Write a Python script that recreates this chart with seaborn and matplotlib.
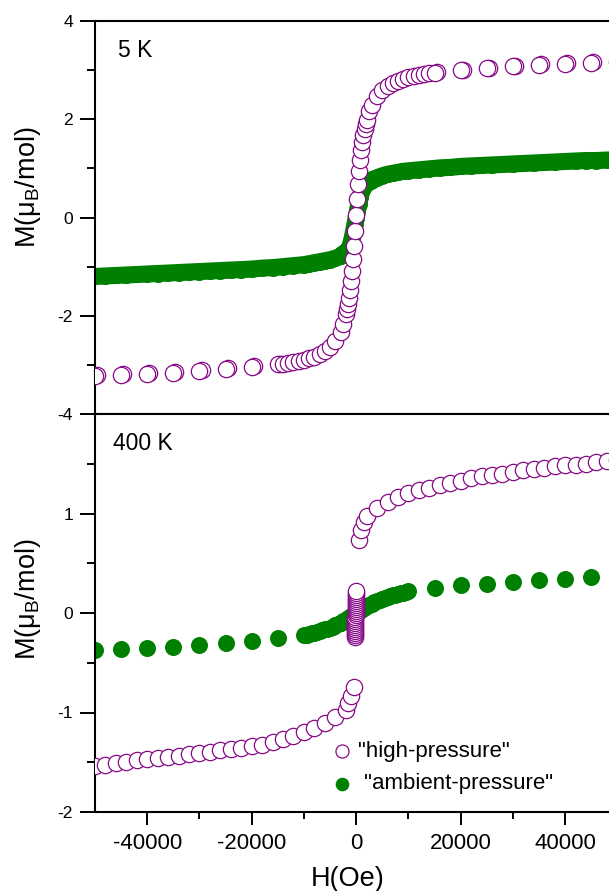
import matplotlib
matplotlib.use("Agg")
import matplotlib.pyplot as plt
import seaborn as sns
from matplotlib.ticker import FixedLocator, StrMethodFormatter

# ---- 5 K, "high-pressure" sample, main sweep (H in Oe, M in muB/mol) ----
hp5_H = [-50000, -45000, -40000, -35000, -30000, -25000, -20000, -15000,
         -14000, -13000, -12000, -11000, -10000, -9000, -8000, -7000, -6000,
         -5000, -4000, -3000, -2500, -2000, -1800, -1600, -1400, -1200,
         -1000, -800, -600, -400, -200, 0, 200, 400, 600, 800, 1000, 1200,
         1400, 1600, 1800, 2000, 2500, 3000, 4000, 5000, 6000, 7000, 8000,
         9000, 10000, 11000, 12000, 13000, 14000, 15000, 20000, 25000,
         30000, 35000, 40000, 45000, 50000]
hp5_M = [-3.22, -3.20, -3.18, -3.16, -3.12, -3.08, -3.04, -2.99,
         -2.98, -2.97, -2.95, -2.93, -2.90, -2.87, -2.83, -2.78, -2.72,
         -2.64, -2.52, -2.33, -2.17, -1.97, -1.87, -1.76, -1.63, -1.48,
         -1.30, -1.08, -0.84, -0.57, -0.27, 0.06, 0.38, 0.68, 0.95, 1.18,
         1.38, 1.54, 1.68, 1.80, 1.90, 1.99, 2.17, 2.30, 2.48, 2.60, 2.68,
         2.74, 2.78, 2.82, 2.85, 2.88, 2.90, 2.92, 2.94, 2.95, 3.00, 3.04,
         3.08, 3.11, 3.13, 3.15, 3.17]
# return sweep, only the sparse high-field points
hp5b_H = [-49600, -44600, -39600, -34600, -29600, -24600, -19600, -14600,
          15400, 20400, 25400, 30400, 35400, 40400, 45400, 50400]
hp5b_M = [-3.21, -3.19, -3.17, -3.14, -3.11, -3.07, -3.03, -2.98,
          2.96, 3.01, 3.05, 3.09, 3.12, 3.14, 3.16, 3.18]

# ---- 5 K, "ambient-pressure" sample ----
ap5_H = [-50000, -48000, -46000, -44000, -42000, -40000, -38000, -36000,
         -34000, -32000, -30000, -28000, -26000, -24000, -22000, -20000,
         -18000, -16000, -14000, -12000, -10000, -9000, -8000, -7000, -6000,
         -5000, -4000, -3000, -2750, -2500, -2250, -2000, -1750, -1500,
         -1250, -1000, -750, -500, -250, 0, 250, 500, 750, 1000, 1250, 1500,
         1750, 2000, 2250, 2500, 2750, 3000, 4000, 5000, 6000, 7000, 8000,
         9000, 10000, 12000, 14000, 16000, 18000, 20000, 22000, 24000,
         26000, 28000, 30000, 32000, 34000, 36000, 38000, 40000, 42000,
         44000, 46000, 48000, 50000]
ap5_M = [-1.20, -1.19, -1.18, -1.17, -1.16, -1.15, -1.14, -1.13,
         -1.12, -1.11, -1.10, -1.09, -1.08, -1.07, -1.06, -1.05,
         -1.03, -1.02, -1.00, -0.98, -0.96, -0.94, -0.92, -0.90, -0.88,
         -0.86, -0.83, -0.79, -0.76, -0.74, -0.72, -0.70, -0.68, -0.65,
         -0.60, -0.52, -0.41, -0.28, -0.14, 0.00, 0.14, 0.28, 0.41, 0.52,
         0.60, 0.65, 0.68, 0.70, 0.72, 0.74, 0.75, 0.77, 0.81, 0.85, 0.88,
         0.90, 0.92, 0.94, 0.95, 0.97, 0.99, 1.01, 1.02, 1.04, 1.05, 1.06,
         1.07, 1.08, 1.09, 1.10, 1.11, 1.12, 1.13, 1.14, 1.15,
         1.16, 1.16, 1.17, 1.18]

# ---- 400 K, "high-pressure" sample ----
hp400_H = [-50000, -48000, -46000, -44000, -42000, -40000, -38000, -36000,
           -34000, -32000, -30000, -28000, -26000, -24000, -22000, -20000,
           -18000, -16000, -14000, -12000, -10000, -8000, -6000, -4000,
           -2000, -1500, -1000, -500,
           -180, -175, -170, -165, -160, -155, -150, -145, -140, -135, -130,
           -125, -120, -115, -110, -105, -100, -95, -90, -85, -80, -75, -70,
           -65,
           500, 1000, 1500, 2000, 4000, 6000, 8000, 10000, 12000, 14000,
           16000, 18000, 20000, 22000, 24000, 26000, 28000, 30000, 32000,
           34000, 36000, 38000, 40000, 42000, 44000, 46000, 48000, 50000]
hp400_M = [-1.54, -1.53, -1.51, -1.50, -1.48, -1.47, -1.46, -1.45,
           -1.44, -1.42, -1.41, -1.40, -1.38, -1.37, -1.36, -1.34,
           -1.33, -1.30, -1.27, -1.24, -1.20, -1.16, -1.11, -1.05,
           -0.97, -0.90, -0.83, -0.74,
           -0.24, -0.22, -0.20, -0.18, -0.16, -0.14, -0.12, -0.10, -0.08,
           -0.06, -0.04, -0.02, 0.00, 0.02, 0.04, 0.06, 0.08, 0.10, 0.12,
           0.14, 0.16, 0.18, 0.20, 0.22,
           0.73, 0.83, 0.91, 0.97, 1.06, 1.12, 1.17, 1.21, 1.24, 1.26,
           1.29, 1.31, 1.33, 1.36, 1.38, 1.39, 1.40, 1.42, 1.44,
           1.45, 1.46, 1.48, 1.49, 1.49, 1.50, 1.52, 1.53, 1.54]

# ---- 400 K, "ambient-pressure" sample ----
ap400_H = [-50000, -45000, -40000, -35000, -30000, -25000, -20000, -15000,
           -10000, -9500, -9000, -8500, -8000, -7500, -7000, -6500, -6000,
           -5500, -5000, -4500, -4000, -3500, -3000, -2500, -2000, -1500,
           -1000, -500, 0, 500, 1000, 1500, 2000, 2500, 3000, 3500, 4000,
           4500, 5000, 5500, 6000, 6500, 7000, 7500, 8000, 8500, 9000, 9500,
           10000, 15000, 20000, 25000, 30000, 35000, 40000, 45000, 50000]
ap400_M = [-0.375, -0.365, -0.348, -0.338, -0.317, -0.297, -0.277, -0.256,
           -0.225, -0.218, -0.211, -0.204, -0.197, -0.190, -0.182, -0.174,
           -0.165, -0.156, -0.147, -0.137, -0.125, -0.112, -0.098, -0.083,
           -0.067, -0.051, -0.034, -0.017, 0.000, 0.017, 0.034, 0.051,
           0.066, 0.081, 0.095, 0.108, 0.120, 0.131, 0.142, 0.151, 0.160,
           0.168, 0.176, 0.183, 0.190, 0.197, 0.204, 0.211, 0.218,
           0.250, 0.277, 0.294, 0.311, 0.334, 0.344, 0.362, 0.375]

PURPLE = '#880a88'
GREEN = '#008000'

sns.set_theme(style='ticks')
plt.rcParams['font.family'] = ['Liberation Sans', 'DejaVu Sans']
plt.rcParams['axes.unicode_minus'] = False
plt.rcParams['mathtext.fontset'] = 'custom'
plt.rcParams['mathtext.rm'] = 'Liberation Sans'
plt.rcParams['mathtext.it'] = 'Liberation Sans:italic'
plt.rcParams['axes.edgecolor'] = 'black'
plt.rcParams['text.color'] = 'black'
plt.rcParams['axes.labelcolor'] = 'black'
plt.rcParams['xtick.color'] = 'black'
plt.rcParams['ytick.color'] = 'black'

fig = plt.figure(figsize=(6.09, 8.91), dpi=100)
W, Hpx = 609, 891
ax1 = fig.add_axes([95 / W, 1 - 414 / Hpx, 514 / W, 393 / Hpx])
ax2 = fig.add_axes([95 / W, 1 - 812 / Hpx, 514 / W, 398 / Hpx])

open_kw = dict(color='white', edgecolor=PURPLE, linewidth=0.9, s=138, zorder=3)
full_kw = dict(color=GREEN, edgecolor=GREEN, linewidth=0, s=150, zorder=2)

# top panel: 5 K
sns.lineplot(x=ap5_H, y=ap5_M, ax=ax1, color=GREEN, lw=12.3, sort=False,
             estimator=None, solid_capstyle='round', zorder=2, legend=False)
sns.scatterplot(x=ap5_H, y=ap5_M, ax=ax1, legend=False, **full_kw)
sns.scatterplot(x=hp5b_H, y=hp5b_M, ax=ax1, legend=False, **open_kw)
sns.scatterplot(x=hp5_H, y=hp5_M, ax=ax1, legend=False, **open_kw)

# bottom panel: 400 K
sns.scatterplot(x=ap400_H, y=ap400_M, ax=ax2, label=' "ambient-pressure"', **full_kw)
sns.scatterplot(x=hp400_H, y=hp400_M, ax=ax2, label='"high-pressure"', **open_kw)

for ax in (ax1, ax2):
    ax.set_xlim(-50000, 48400)
    for side in ('left', 'top', 'bottom'):
        ax.spines[side].set_linewidth(1.5)
        ax.spines[side].set_color('black')
    ax.spines['right'].set_visible(False)
    ax.tick_params(axis='y', which='major', direction='out', length=10.8,
                   width=1.4, labelsize=12.6, pad=5, colors='black')
    ax.tick_params(axis='y', which='minor', direction='out', length=5.5,
                   width=1.4)
    ax.set_ylabel('M(μ$_{\\mathregular{B}}$/mol)', fontsize=19.5)

ax1.set_ylim(-4, 4)
ax1.yaxis.set_major_locator(FixedLocator([-4, -2, 0, 2, 4]))
ax1.yaxis.set_minor_locator(FixedLocator([-3, -1, 1, 3]))
ax1.set_xticks([])
ax1.set_xlabel('')
ax1.yaxis.set_label_coords(-0.101, 0.578)
ax1.text(0.045, 0.926, '5 K', transform=ax1.transAxes, fontsize=16.5,
         va='center', ha='left')

ax2.set_ylim(-2, 2)
ax2.yaxis.set_major_locator(FixedLocator([-2, -1, 0, 1]))
ax2.yaxis.set_minor_locator(FixedLocator([-1.5, -0.5, 0.5, 1.5]))
ax2.xaxis.set_major_locator(FixedLocator([-40000, -20000, 0, 20000, 40000]))
ax2.xaxis.set_minor_locator(FixedLocator([-30000, -10000, 10000, 30000]))
ax2.xaxis.set_major_formatter(StrMethodFormatter('{x:.0f}'))
ax2.tick_params(axis='x', which='major', direction='out', length=9.4,
                width=1.4, labelsize=16, pad=6, colors='black')
ax2.tick_params(axis='x', which='minor', direction='out', length=5, width=1.4)
ax2.yaxis.set_label_coords(-0.101, 0.535)
ax2.set_xlabel('H(Oe)', fontsize=19.5)
ax2.xaxis.set_label_coords(0.492, -0.136)
ax2.text(0.035, 0.927, '400 K', transform=ax2.transAxes, fontsize=16.5,
         va='center', ha='left')

handles, labels = ax2.get_legend_handles_labels()
ax2.legend(handles[::-1], labels[::-1], loc='upper left',
           bbox_to_anchor=(0.425, 0.228), frameon=False, fontsize=16,
           markerscale=0.8, handlelength=0.8, handletextpad=0.3,
           labelspacing=0.5, borderpad=0.4)

fig.savefig('out.png', dpi=100)
